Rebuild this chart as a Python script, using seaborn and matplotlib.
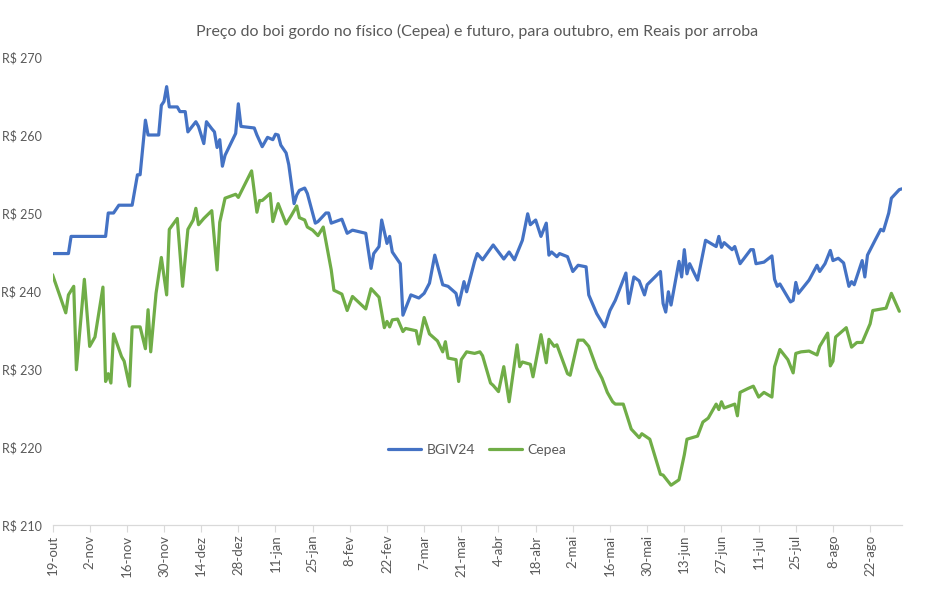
import pandas as pd
import numpy as np
import matplotlib
matplotlib.use("Agg")
import matplotlib.pyplot as plt
import seaborn as sns

# ---- data (days after 19-out-2023, price R$/arroba) ----
start_date = "2023-10-19"

bgiv_days = [0, 6, 7, 20, 21, 23, 25, 30, 32, 33, 35, 36, 40, 41, 42, 43, 44, 47, 48, 50,
             51, 54, 55, 57, 58, 60, 61, 62, 63, 64, 65, 69, 70, 71, 76, 77, 79, 81, 83, 84,
             85, 86, 88, 89, 91, 92, 93, 95, 96, 99, 100, 103, 104, 105, 109, 111, 113, 118, 120, 121,
             123, 124, 126, 127, 128, 131, 132, 135, 138, 140, 142, 144, 147, 149, 152, 153, 155, 156, 159, 160,
             162, 166, 170, 172, 174, 177, 179, 180, 182, 184, 186, 187, 188, 190, 191, 194, 196, 198, 201, 202,
             205, 208, 210, 212, 216, 217, 219, 221, 223, 224, 229, 230, 231, 232, 233, 236, 237, 238, 239, 240,
             243, 246, 250, 251, 252, 253, 256, 257, 259, 263, 264, 265, 268, 271, 272, 273, 274, 278, 279, 280,
             281, 285, 288, 289, 291, 293, 294, 296, 298, 300, 301, 302, 305, 306, 307, 310, 312, 313, 315, 316,
             319, 320]
bgiv_vals = [244.8, 244.8, 247.0, 247.0, 250.0, 250.0, 251.0, 251.0, 254.9, 254.9, 261.9, 260.0, 260.0, 263.8, 264.3, 266.2, 263.6, 263.6, 263.0, 263.0,
             260.4, 261.7, 261.1, 258.9, 261.7, 260.8, 260.4, 258.4, 259.4, 256.0, 257.4, 260.2, 264.0, 261.1, 260.9, 260.0, 258.5, 259.7, 259.4, 260.1,
             260.0, 258.7, 257.7, 256.2, 251.2, 252.3, 252.9, 253.2, 252.5, 248.7, 248.9, 250.0, 250.0, 248.7, 249.2, 247.4, 247.8, 247.4, 242.9, 244.8,
             245.7, 249.1, 246.1, 247.0, 245.0, 243.5, 236.9, 239.5, 239.1, 239.7, 241.0, 244.6, 240.8, 240.6, 239.7, 238.2, 241.2, 239.9, 243.8, 244.8,
             244.0, 245.9, 244.1, 245.0, 244.0, 246.5, 249.9, 248.5, 249.1, 247.0, 248.7, 244.6, 245.0, 244.4, 244.8, 244.4, 242.5, 243.3, 243.1, 239.5,
             237.1, 235.4, 237.5, 238.8, 242.3, 238.4, 241.8, 241.3, 239.5, 240.8, 242.5, 238.4, 237.3, 239.9, 238.2, 243.8, 241.8, 245.3, 242.2, 243.5,
             241.4, 246.5, 245.7, 247.0, 245.6, 246.2, 245.3, 245.7, 243.5, 245.3, 245.3, 243.5, 243.7, 244.5, 241.5, 240.6, 240.9, 238.6, 238.8, 241.1,
             239.7, 241.4, 243.3, 242.5, 243.5, 245.2, 243.9, 244.2, 243.6, 240.6, 241.2, 240.8, 243.9, 241.8, 244.6, 246.6, 247.9, 247.7, 250.0, 251.9,
             253.0, 253.1]

cepea_days = [0, 5, 6, 8, 9, 12, 14, 16, 19, 20, 21, 22, 23, 26, 27, 29, 30, 33, 35, 36,
              37, 39, 41, 43, 44, 47, 49, 51, 53, 54, 55, 57, 60, 62, 63, 65, 69, 70, 75, 77,
              78, 79, 82, 83, 85, 88, 90, 92, 93, 95, 96, 98, 100, 102, 105, 106, 109, 111, 113, 118,
              120, 123, 125, 126, 127, 128, 130, 132, 133, 137, 138, 140, 142, 145, 147, 148, 149, 152, 153, 154,
              156, 159, 161, 162, 165, 166, 168, 170, 172, 175, 176, 177, 180, 181, 184, 186, 187, 189, 190, 194,
              195, 196, 198, 200, 202, 205, 207, 209, 211, 212, 215, 218, 221, 222, 225, 229, 230, 233, 236, 238,
              239, 243, 245, 247, 250, 251, 252, 253, 257, 258, 259, 262, 264, 266, 268, 271, 272, 274, 277, 279,
              280, 282, 285, 288, 289, 292, 293, 294, 295, 299, 301, 303, 305, 308, 309, 314, 316, 319]
cepea_vals = [242.1, 237.2, 239.5, 240.6, 229.9, 241.5, 232.9, 234.1, 240.5, 228.4, 229.4, 228.2, 234.5, 231.6, 231.0, 227.8, 235.4, 235.4, 232.6, 237.6,
              232.2, 239.7, 244.3, 239.5, 247.9, 249.3, 240.6, 247.9, 249.1, 250.6, 248.5, 249.3, 250.3, 242.7, 248.8, 251.9, 252.4, 252.0, 255.4, 250.1,
              251.6, 251.6, 252.5, 248.9, 251.2, 248.6, 249.7, 250.9, 249.4, 249.1, 248.2, 247.8, 247.1, 248.2, 242.7, 240.1, 239.6, 237.5, 239.3, 237.7,
              240.3, 239.2, 235.3, 236.1, 235.4, 236.3, 236.4, 234.8, 235.2, 234.9, 233.2, 236.6, 234.5, 233.6, 232.2, 233.5, 231.4, 231.2, 228.4, 231.2,
              232.2, 232.0, 232.2, 231.7, 228.2, 227.9, 227.1, 230.3, 225.8, 233.1, 230.3, 230.9, 230.6, 229.0, 234.4, 230.8, 233.8, 232.9, 233.1, 229.4,
              229.2, 230.7, 233.7, 233.7, 232.9, 230.1, 228.8, 227.0, 225.8, 225.5, 225.5, 222.3, 221.2, 221.7, 221.0, 216.5, 216.4, 215.1, 215.8, 219.0,
              221.0, 221.4, 223.2, 223.7, 225.5, 224.8, 225.8, 225.0, 225.5, 224.0, 227.0, 227.5, 227.8, 226.4, 227.0, 226.4, 230.3, 232.5, 231.2, 229.5,
              232.0, 232.2, 232.3, 231.8, 232.9, 234.6, 230.4, 231.0, 234.1, 235.3, 232.8, 233.4, 233.4, 235.8, 237.5, 237.8, 239.7, 237.4]

series_names = ["BGIV24", "Cepea"]
series_colors = ["#4472C4", "#70AD47"]
month_abbr = ["jan", "fev", "mar", "abr", "mai", "jun", "jul", "ago", "set", "out", "nov", "dez"]
title = "Preço do boi gordo no físico (Cepea) e futuro, para outubro, em Reais por arroba"

# ---- build table ----
t0 = pd.Timestamp(start_date)
df = pd.concat([
    pd.DataFrame({"data": t0 + pd.to_timedelta(bgiv_days, unit="D"), "preco": bgiv_vals, "serie": series_names[0]}),
    pd.DataFrame({"data": t0 + pd.to_timedelta(cepea_days, unit="D"), "preco": cepea_vals, "serie": series_names[1]}),
], ignore_index=True)

sns.set_style("white")
plt.rcParams["font.family"] = ["Lato", "DejaVu Sans"]

fig = plt.figure(figsize=(9.48, 5.89), dpi=100)
ax = fig.add_axes([52.5 / 948, 1 - 525 / 589, (902 - 52.5) / 948, (525 - 57) / 589])

sns.lineplot(data=df, x="data", y="preco", hue="serie", palette=dict(zip(series_names, series_colors)),
             linewidth=2.3, ax=ax, estimator=None, sort=False)

ax.set_ylim(210, 270)
ax.set_xlim(t0, t0 + pd.Timedelta(days=320))
ax.set_yticks(np.arange(210, 271, 10))
ax.set_yticklabels([f"R$ {v}" for v in range(210, 271, 10)], color="#595959", fontsize=9)

ticks = pd.date_range(t0, pd.Timestamp("2024-08-22"), freq="14D")
ax.set_xticks(ticks)
ax.set_xticklabels([f"{d.day}-{month_abbr[d.month - 1]}" for d in ticks], rotation=90,
                   color="#595959", fontsize=9.5)
ax.tick_params(axis="x", length=5, width=0.8, color="#D9D9D9", pad=2, direction="out", bottom=True)
ax.tick_params(axis="y", length=0, pad=8)

for s in ["top", "right", "left"]:
    ax.spines[s].set_visible(False)
ax.spines["bottom"].set_color("#D9D9D9")
ax.spines["bottom"].set_linewidth(0.9)
ax.set_xlabel("")
ax.set_ylabel("")
ax.grid(False)

fig.text(0.503, 1 - 31 / 589, title, ha="center", va="center", fontsize=11.5, color="#595959")

leg = ax.legend(loc="center", bbox_to_anchor=(477 / 948, 1 - 450 / 589), bbox_transform=fig.transFigure,
                ncol=2, frameon=False, fontsize=10, handlelength=2.4, columnspacing=1.0, handletextpad=0.4)
for txt in leg.get_texts():
    txt.set_color("#595959")

fig.savefig("out.png", dpi=100)
